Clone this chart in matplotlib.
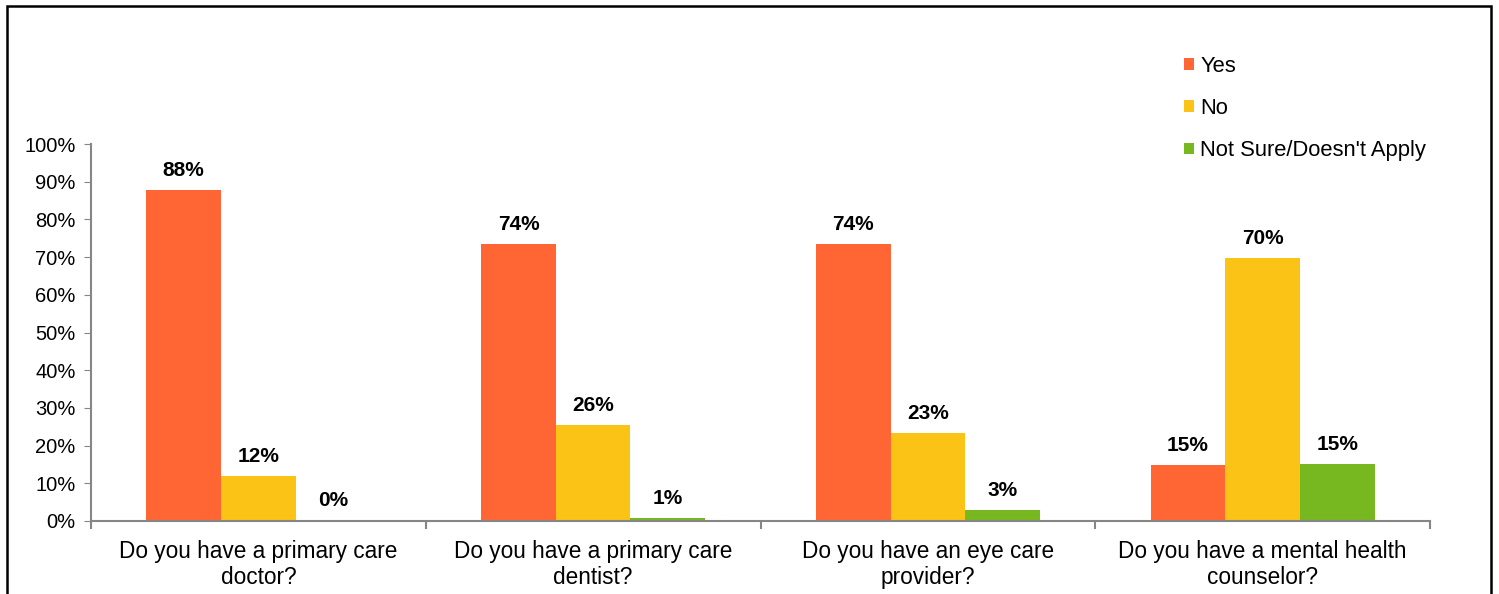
import matplotlib
matplotlib.use("Agg")
import matplotlib.pyplot as plt
import numpy as np
from matplotlib.patches import Rectangle

plt.rcParams['font.family'] = ['Liberation Sans', 'DejaVu Sans']

categories = [
    "Do you have a primary care\ndoctor?",
    "Do you have a primary care\ndentist?",
    "Do you have an eye care\nprovider?",
    "Do you have a mental health\ncounselor?",
]
series_names = ["Yes", "No", "Not Sure/Doesn't Apply"]
yes_vals = [87.8, 73.5, 73.5, 14.9]
no_vals = [11.9, 25.5, 23.3, 69.8]
unsure_vals = [0.3, 0.8, 2.9, 15.1]
colors = ["#FF6633", "#FBC316", "#77B820"]

W, H = 1499, 594
fig = plt.figure(figsize=(W / 100, H / 100), dpi=100)
ax = fig.add_axes([91 / W, (H - 521) / H, (1430 - 91) / W, (521 - 144) / H])

x = np.arange(len(categories))
bw = 0.223
all_vals = [yes_vals, no_vals, unsure_vals]
for i, (vals, name, c) in enumerate(zip(all_vals, series_names, colors)):
    pos = x + (i - 1) * bw
    ax.bar(pos, vals, width=bw, color=c, label=name, zorder=2)
    for p, v in zip(pos, vals):
        ax.annotate(f"{v:.0f}%", (p, v), xytext=(0, 7), textcoords="offset points",
                    ha="center", va="bottom", fontsize=15, fontweight="bold",
                    color="black")

ax.set_xlim(-0.5, len(categories) - 0.5)
ax.set_ylim(0, 100)
ax.set_yticks(np.arange(0, 101, 10))
ax.set_yticklabels([f"{t}%" for t in range(0, 101, 10)], fontsize=14.5)
ax.set_xticks(x)
ax.set_xticklabels(categories, fontsize=16.3, linespacing=1.18)
ax.tick_params(axis="x", length=0, pad=13.5)
ax.tick_params(axis="y", length=5, color="#868686", pad=6)
ax.set_xticks(np.arange(-0.5, len(categories)), minor=True)
ax.tick_params(axis="x", which="minor", length=6, color="#868686", width=1.5)

for side in ["top", "right"]:
    ax.spines[side].set_visible(False)
for side in ["left", "bottom"]:
    ax.spines[side].set_color("#868686")
    ax.spines[side].set_linewidth(1.5)

leg = fig.legend(loc="upper left", bbox_to_anchor=(1164 / W, 1 - 36 / H),
                 frameon=False, fontsize=15.8, handlelength=0.45, handleheight=0.45,
                 handletextpad=0.3, labelspacing=0.97)

# outer frame around the chart
fig.patches.append(Rectangle((7 / W, -0.05), (1491 - 7) / W, 1 - 6 / H + 0.05,
                             transform=fig.transFigure, fill=False,
                             edgecolor="black", linewidth=1.8))

fig.savefig("out.png", dpi=100)
